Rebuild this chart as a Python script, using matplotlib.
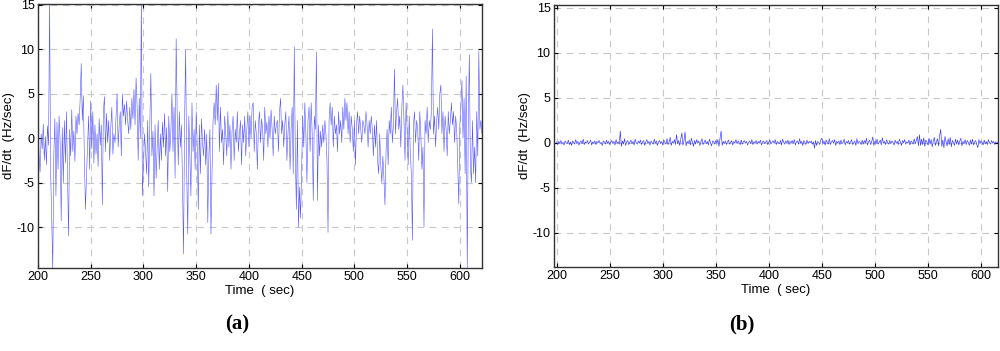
import numpy as np
import matplotlib.pyplot as plt

plt.rcParams['font.family'] = ['Liberation Sans', 'DejaVu Sans']
plt.rcParams['axes.unicode_minus'] = False

# (a) rate of change of frequency, one sample per second from t = 200 s
t0_a = 200
dfdt_a = [
    1.5, -2.0, -3.8, 0.5, -1.2, 1.6, -2.5, 0.2, -3.0, 1.4,
    -0.8, 15.5, -4.0, -9.0, -14.8, -2.0, 2.2, -6.5, 1.8, -3.5,
    2.5, -0.5, -9.3, 1.2, -5.0, 2.0, -2.8, 3.0, -4.5, -11.0,
    1.0, -2.0, 3.2, -1.5, 0.8, -2.6, 2.5, 0.5, 2.8, 1.5,
    4.5, 8.4, 2.0, 4.8, -2.5, -8.0, -4.2, -1.0, 2.5, -3.5,
    4.2, -1.2, 3.0, -2.8, 1.5, -1.8, 0.5, -3.2, 2.2, -0.8,
    1.5, -7.5, 3.0, 4.7, -1.5, 2.8, -0.5, 2.0, -2.5, 1.2,
    3.5, -1.8, 0.5, -0.5, 2.5, 5.0, -1.0, 1.5, 3.0, -2.0,
    5.0, 2.5, 3.8, 1.5, 4.2, 2.0, 0.5, 3.5, 1.0, 4.5,
    2.2, 5.5, 1.5, 6.8, 3.5, -2.5, 4.5, 0.0, 15.5, -6.5,
    -3.0, 0.5, -1.5, -4.0, 2.0, -5.5, 1.5, 7.3, -2.0, 0.8,
    -6.5, 1.5, -4.5, -1.0, 2.0, -3.5, 0.5, -2.5, 1.8, -1.0,
    2.8, -2.0, 1.2, -6.0, 2.5, -1.5, 0.8, 5.0, -1.5, 3.5,
    -4.5, 11.2, 2.5, -3.0, 3.0, -1.0, 1.5, -5.0, -13.0, 2.0,
    10.0, -4.0, -10.8, 2.5, -2.0, -6.5, 4.0, -1.5, 1.0, -3.5,
    3.0, -1.0, -8.0, 1.5, -4.0, 2.2, -0.5, -2.0, 1.0, -3.0,
    0.5, -9.5, -2.0, 1.0, -10.8, -4.0, 2.0, 4.0, 1.5, 6.0,
    2.0, 6.2, -1.5, 3.5, -0.5, 1.0, -3.0, 2.5, 0.5, -2.0,
    3.0, -1.0, 1.5, -3.5, 0.8, 2.5, -2.5, 1.0, -0.5, 3.0,
    -1.5, 0.5, 2.0, -3.0, 1.5, -0.5, 2.5, -2.0, 1.0, 3.0,
    -1.0, 2.5, 0.0, 3.5, 4.0, -1.5, 2.0, 0.5, -3.5, 1.5,
    3.0, -0.5, 2.2, 1.0, -2.5, 3.5, 0.5, 1.8, -1.0, 2.5,
    0.0, 3.2, 1.0, -2.0, 2.5, 0.5, 1.5, 2.0, -1.5, 3.0,
    4.5, 0.5, 2.0, -1.0, 1.5, 3.0, -2.5, 0.5, 2.5, -3.5,
    1.0, 3.5, -4.0, 10.3, -2.0, -8.0, 2.0, -10.0, -5.5, -9.0,
    -3.0, 2.5, -1.0, 4.0, 0.5, -5.0, 2.0, 3.5, -1.5, 4.0,
    0.5, -7.0, 2.5, 1.0, 9.7, -7.0, 1.5, -2.0, 0.8, -1.0,
    1.5, -0.5, 2.0, 0.5, -2.5, -10.6, 2.0, 4.0, 1.5, 3.5,
    -1.0, 2.5, 0.5, 1.5, -1.5, 3.0, 0.5, 2.0, -0.5, 3.5,
    1.0, 4.5, 2.0, 4.0, 0.5, 3.0, -0.5, 2.5, 1.0, -1.5,
    2.0, -3.0, 1.5, 3.0, 0.5, 2.5, 1.0, -0.5, 2.0, 1.5,
    0.5, 3.0, 1.5, -1.0, 2.0, 0.5, 2.5, 1.0, -2.0, 1.5,
    -1.0, 2.0, -2.5, -4.0, 0.5, -3.0, -5.0, -2.0, -4.5, -7.5,
    -1.5, 1.0, -3.0, 2.0, 0.5, 3.5, -0.5, 1.5, 7.8, 0.5,
    3.0, 4.5, 1.0, 2.5, -1.0, 3.5, 6.0, 2.0, -2.5, 4.0,
    1.0, -3.0, 2.5, -1.5, -4.0, -11.5, 1.5, 3.0, -0.5, 2.0,
    1.0, -2.5, 3.0, 0.5, -3.5, -1.0, -10.0, 2.0, 0.5, 3.5,
    -0.5, 2.0, 1.0, 3.0, 12.3, 0.5, 2.5, -1.0, 2.0, 3.5,
    1.0, 5.0, 6.0, 0.5, 3.0, -1.5, 2.5, 1.0, -2.0, 3.0,
    0.5, 2.0, 4.0, 1.5, 3.0, -0.5, 2.5, 1.0, -3.0, -7.4,
    1.5, 3.5, 6.5, 0.0, 4.5, -4.0, 7.0, -14.8, 2.0, 9.4,
    -3.0, -5.0, 2.0, -4.0, -1.0, -5.0, 3.0, -2.0, 9.8, 1.0,
    2.0, 0.5,
]

# (b) same quantity after control, one sample per second from t = 200 s
t0_b = 200
dfdt_b = [
    0.10, -0.20, 0.15, -0.05, 0.25, -0.15, 0.05, -0.25, 0.20, 0.00,
    -0.10, 0.30, -0.20, 0.10, -0.30, 0.20, 0.05, -0.15, 0.35, -0.10,
    0.15, -0.25, 0.05, 0.20, -0.10, 0.40, -0.20, 0.10, -0.05, 0.25,
    -0.15, 0.05, 0.30, -0.25, 0.10, -0.05, 0.20, -0.20, 0.15, 0.00,
    0.25, -0.10, 0.05, -0.30, 0.20, 0.10, -0.15, 0.30, -0.05, 0.15,
    -0.20, 0.05, 0.25, -0.10, 0.15, -0.25, 0.35, -0.05, 0.10, -0.15,
    1.30, -0.40, 0.20, -0.15, 0.45, -0.30, 0.10, 0.25, -0.20, 0.05,
    0.30, -0.10, 0.15, -0.25, 0.40, 0.00, -0.15, 0.20, -0.05, 0.30,
    -0.20, 0.10, 0.25, -0.30, 0.05, 0.35, -0.10, 0.15, -0.25, 0.20,
    0.00, -0.15, 0.40, -0.05, 0.20, -0.30, 0.10, 0.25, -0.10, 0.15,
    -0.25, 0.30, 0.05, -0.15, 0.45, -0.20, 0.10, 0.60, -0.30, 0.15,
    -0.05, 0.35, -0.20, 0.90, -0.10, 0.25, -0.30, 0.40, 1.10, -0.25,
    0.20, 1.20, -0.35, 0.15, -0.10, 0.30, -0.25, 0.50, 0.05, -0.40,
    0.25, -0.15, 0.35, -0.05, 0.20, -0.30, 0.10, 0.45, -0.20, 0.05,
    0.30, -0.10, 0.15, -0.25, 0.40, 0.00, -0.35, 0.20, 0.10, -0.15,
    0.25, -0.05, 0.35, -0.40, 0.50, 1.30, -0.30, 0.15, -0.10, 0.20,
    -0.20, 0.10, 0.30, -0.15, 0.05, 0.25, -0.25, 0.15, -0.05, 0.35,
    -0.10, 0.20, 0.00, -0.20, 0.30, -0.15, 0.10, 0.25, -0.05, 0.15,
    -0.25, 0.05, 0.20, -0.10, 0.35, -0.20, 0.10, 0.00, 0.25, -0.15,
    0.15, -0.05, 0.30, -0.25, 0.10, 0.20, -0.10, 0.05, 0.25, -0.20,
    0.10, 0.30, -0.15, 0.05, 0.20, -0.05, 0.35, -0.20, 0.15, 0.00,
    -0.10, 0.25, -0.25, 0.40, 0.05, -0.15, 0.20, -0.05, 0.30, -0.20,
    0.15, 0.00, 0.25, -0.10, 0.35, -0.25, 0.10, 0.20, -0.15, 0.45,
    -0.05, 0.15, -0.30, 0.25, 0.05, -0.20, 0.30, -0.10, 0.15, 0.00,
    0.20, -0.15, 0.10, -0.60, 0.25, -0.30, 0.15, 0.05, -0.20, 0.35,
    0.50, -0.10, 0.20, -0.25, 0.30, 0.05, -0.15, 0.45, -0.20, 0.10,
    0.25, -0.05, 0.35, -0.30, 0.15, 0.00, 0.20, -0.20, 0.30, -0.10,
    0.05, 0.40, -0.25, 0.15, -0.05, 0.25, -0.15, 0.10, 0.35, -0.20,
    0.00, 0.20, -0.30, 0.45, -0.10, 0.15, 0.05, -0.20, 0.30, -0.15,
    0.25, -0.05, 0.50, -0.25, 0.10, 0.30, -0.20, 0.15, 0.65, -0.30,
    0.20, -0.10, 0.40, -0.15, 0.05, 0.30, -0.25, 0.55, -0.05, 0.15,
    -0.20, 0.35, 0.00, -0.15, 0.25, -0.10, 0.20, 0.05, -0.25, 0.30,
    -0.05, 0.15, -0.20, 0.40, 0.10, -0.30, 0.25, 0.00, 0.35, -0.15,
    0.10, -0.05, 0.30, -0.25, 0.20, 0.05, -0.15, 0.45, -0.10, 0.25,
    0.70, -0.35, 0.90, -0.30, 0.40, -0.20, 0.55, -0.40, 0.30, 0.10,
    -0.25, 0.50, -0.15, 0.35, -0.45, 0.20, 0.60, -0.30, 0.15, 0.45,
    -0.35, 0.80, 1.50, -0.40, 0.30, -0.55, 0.70, 0.10, -0.35, 0.45,
    -0.20, 0.60, -0.45, 0.25, 0.05, -0.30, 0.40, -0.15, 0.30, -0.25,
    0.20, 0.50, -0.35, 0.15, -0.10, 0.35, -0.20, 0.25, 0.05, -0.30,
    0.30, -0.15, 0.40, -0.25, 0.10, 0.25, -0.20, -0.55, 0.35, -0.10,
    0.20, 0.05, -0.25, 0.30, -0.10, 0.15, -0.20, 0.35, 0.00, -0.15,
    0.25, -0.05, 0.15, -0.20, 0.10, 0.05, 0.00,
]

xticks = [200, 250, 300, 350, 400, 450, 500, 550, 600]
yticks = [-10, -5, 0, 5, 10, 15]

fig = plt.figure(figsize=(10, 3.51), dpi=100)
ax_a = fig.add_axes([0.038, 0.2365, 0.444, 0.752])
ax_b = fig.add_axes([0.554, 0.2393, 0.444, 0.7464])


def style(ax, xlim, ylim):
    ax.set_xlim(xlim)
    ax.set_ylim(ylim)
    ax.set_xticks(xticks)
    ax.set_yticks(yticks)
    ax.grid(True, color='#c8c8c8', linestyle=(0, (6, 5)), linewidth=0.8)
    ax.tick_params(direction='in', top=True, right=True, length=3,
                   labelsize=9, pad=2.5, width=0.8)
    for s in ax.spines.values():
        s.set_linewidth(1.0)
        s.set_color('#333333')
    ax.set_xlabel('Time  ( sec)', fontsize=9.5, labelpad=1)
    ax.set_ylabel('dF/dt  (Hz/sec)', fontsize=9.5, labelpad=1)


t_a = t0_a + np.arange(len(dfdt_a))
t_b = t0_b + np.arange(len(dfdt_b))

ax_a.plot(t_a, dfdt_a, color='#5555ff', linewidth=0.4)
style(ax_a, (200, 621), (-14.6, 15.1))

ax_b.plot(t_b, dfdt_b, color='#3333ff', linewidth=0.45)
style(ax_b, (197.5, 616), (-13.8, 15.3))

fig.text(0.237, 0.075, '(a)', fontsize=15, fontweight='bold',
         family='Liberation Serif', ha='center', va='center')
fig.text(0.742, 0.075, '(b)', fontsize=15, fontweight='bold',
         family='Liberation Serif', ha='center', va='center')

fig.savefig('out.png', dpi=100)
